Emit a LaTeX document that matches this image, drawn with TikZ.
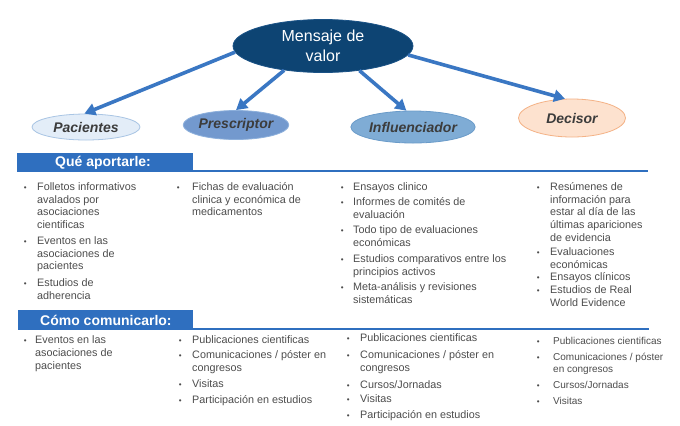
\documentclass[tikz,border=0pt]{standalone}
\usepackage{fontspec}
\setmainfont{Liberation Sans}
\usetikzlibrary{arrows.meta,shapes.geometric}
\definecolor{navy}{HTML}{0D4473}
\definecolor{navyb}{HTML}{1A5286}
\definecolor{arrblue}{HTML}{3A77C3}
\definecolor{bandblue}{HTML}{2F6FBF}
\definecolor{txtdark}{HTML}{3C3C3C}
\definecolor{txtgray}{HTML}{4D4D4D}
\definecolor{pacf}{HTML}{E3EDF8}
\definecolor{pacd}{HTML}{A9C5E4}
\definecolor{pref}{HTML}{7399CE}
\definecolor{pred}{HTML}{8DB0DC}
\definecolor{inff}{HTML}{7FACD5}
\definecolor{infd}{HTML}{6A9BC9}
\definecolor{decf}{HTML}{FDE2CF}
\definecolor{decd}{HTML}{F4B286}
\newcommand{\bt}[1]{\rule{0pt}{11bp}\llap{\fontsize{8bp}{8bp}\selectfont\textbullet\hspace{#1}}}
\tikzset{
  role/.style={ellipse, inner sep=0pt, line width=0.8bp, text=txtdark,
    font=\fontsize{14bp}{16bp}\selectfont\bfseries\itshape},
  arr/.style={draw=arrblue, line width=3.6bp, -{Triangle[length=11bp,width=12bp]}},
  band/.style={fill=bandblue, draw=none},
  bandline/.style={draw=bandblue, line width=2bp},
  bandtxt/.style={anchor=west, inner sep=0pt, text=white,
    font=\fontsize{14bp}{16bp}\selectfont\bfseries},
  itm/.style={anchor=north west, inner sep=0pt, align=left, text=txtgray,
    font=\fontsize{10.8bp}{12.8bp}\selectfont},
  itmb/.style={itm, font=\fontsize{10.8bp}{13.5bp}\selectfont},
  itms/.style={itm, font=\fontsize{10bp}{12bp}\selectfont}
}
\begin{document}
\begin{tikzpicture}[x=1bp,y=-1bp]
\useasboundingbox (0,0) rectangle (680,425);
\fill[white] (0,0) rectangle (680,425);

% central ellipse
\node[ellipse, fill=navy, draw=navyb, line width=0.8bp, minimum width=180bp, minimum height=53bp,
  inner sep=0pt, text=white, align=center, font=\fontsize{16bp}{20bp}\selectfont] (msg) at (323,46) {Mensaje de\\valor};

% roles
\node[role, fill=pacf, draw=pacd, minimum width=108bp, minimum height=26bp] (pac) at (86,127) {Pacientes};
\node[role, fill=pref, draw=pred, minimum width=105bp, minimum height=29bp] (pre) at (236,125) {Prescriptor};
\node[role, fill=inff, draw=infd, minimum width=111bp, minimum height=32bp] (inf) at (413,127) {Influenciador};
\node[role, fill=decf, draw=decd, minimum width=107bp, minimum height=38bp] (dec) at (572,118) {Decisor};

% arrows
\draw[arr] (msg.184) -- (pac.97);
\draw[arr] (msg.212) -- (pre.90);
\draw[arr] (msg.326) -- (inf.112);
\draw[arr] (msg.354) -- (dec.110);

% band 1
\node[band, minimum width=176bp, minimum height=19bp, inner sep=0pt] (b1) at (105,162.5) {};
\coordinate (l1e) at (648,171);
\draw[bandline] (b1.south east) ++(0,-1) coordinate (l1s) -- (l1e |- l1s);
\node[bandtxt] (b1t) at (55,162.5) {Qué aportarle:};

% band 2
\node[band, minimum width=175bp, minimum height=20bp, inner sep=0pt] (b2) at (105.5,320) {};
\coordinate (l2e) at (649,329);
\draw[bandline] (b2.south east) ++(0,-1) coordinate (l2s) -- (l2e |- l2s);
\node[bandtxt] (b2t) at (40,320) {Cómo comunicarlo:};

% Que aportarle: column 1
\node[itm] (a11) at (37,179) {\bt{10.6bp}Folletos informativos\\avalados por\\asociaciones\\cientificas};
\node[itm] (a12) at (37,233) {\bt{10.6bp}Eventos en las\\asociaciones de\\pacientes};
\node[itm] (a13) at (37,275) {\bt{10.6bp}Estudios de\\adherencia};
% column 2
\node[itm] (a21) at (192,179) {\bt{12.6bp}Fichas de evaluación\\clinica y económica de\\medicamentos};
% column 3
\node[itmb] (a31) at (353,179) {\bt{9.6bp}Ensayos clinico};
\node[itmb] (a32) at (353,194) {\bt{9.6bp}Informes de comités de\\evaluación};
\node[itmb] (a33) at (353,222) {\bt{9.6bp}Todo tipo de evaluaciones\\económicas};
\node[itmb] (a34) at (353,251) {\bt{9.6bp}Estudios comparativos entre los\\principios activos};
\node[itmb] (a35) at (353,279) {\bt{9.6bp}Meta-análisis y revisiones\\sistemáticas};
% column 4
\node[itm] (a41) at (550,179) {\bt{10.6bp}Resúmenes de\\información para\\estar al día de las\\últimas apariciones\\de evidencia};
\node[itm] (a42) at (550,244) {\bt{10.6bp}Evaluaciones\\económicas};
\node[itm] (a43) at (550,269) {\bt{10.6bp}Ensayos clínicos};
\node[itm] (a44) at (550,282) {\bt{10.6bp}Estudios de Real\\World Evidence};

% Como comunicarlo: column 1
\node[itm, font=\fontsize{10.8bp}{13.3bp}\selectfont] (c11) at (35,332) {\bt{8.6bp}Eventos en las\\asociaciones de\\pacientes};
% column 2
\node[itm] (c21) at (192,332) {\bt{10.6bp}Publicaciones cientificas};
\node[itm] (c22) at (192,347) {\bt{10.6bp}Comunicaciones / póster en\\congresos};
\node[itm] (c23) at (192,376) {\bt{10.6bp}Visitas};
\node[itm] (c24) at (192,392) {\bt{10.6bp}Participación en estudios};
% column 3
\node[itm] (c31) at (360,330) {\bt{10.6bp}Publicaciones cientificas};
\node[itm] (c32) at (360,347) {\bt{10.6bp}Comunicaciones / póster en\\congresos};
\node[itm] (c33) at (360,377) {\bt{10.6bp}Cursos/Jornadas};
\node[itm] (c34) at (360,391) {\bt{10.6bp}Visitas};
\node[itm] (c35) at (360,407) {\bt{10.6bp}Participación en estudios};
% column 4
\node[itms] (c41) at (553,333) {\bt{13.6bp}Publicaciones cientificas};
\node[itms] (c42) at (553,349) {\bt{13.6bp}Comunicaciones / póster\\en congresos};
\node[itms] (c43) at (553,377) {\bt{13.6bp}Cursos/Jornadas};
\node[itms] (c44) at (553,393) {\bt{13.6bp}Visitas};
\end{tikzpicture}
\end{document}
